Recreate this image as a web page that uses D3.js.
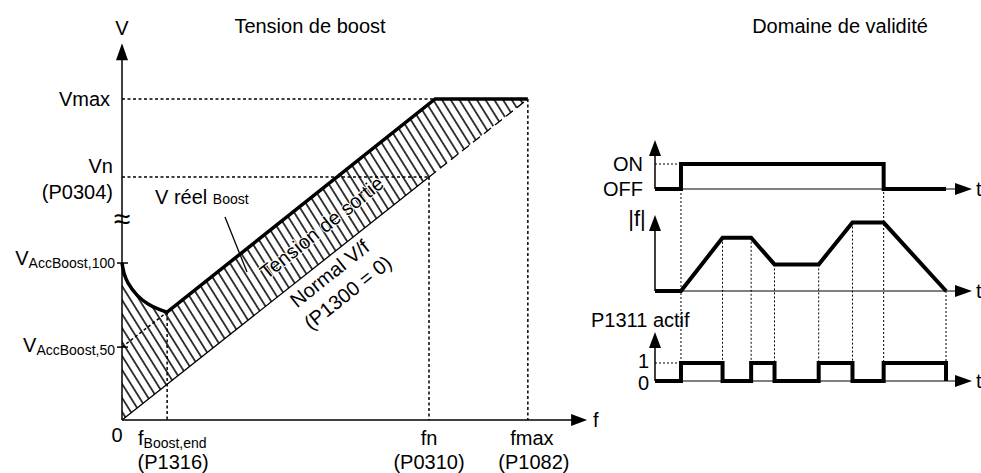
<!DOCTYPE html>
<html><head><meta charset="utf-8">
<script src="https://cdn.jsdelivr.net/npm/d3@7"></script>
<style>
html,body{margin:0;padding:0;background:#fff;}
svg{display:block;font-family:"Liberation Sans",Arial,sans-serif;}
</style></head>
<body>
<svg id="c" width="981" height="473"></svg>
<script>
// ---------- DATA (left: V/f characteristic, values in % of rated) ----------
const fBoostEnd = 14.7, fN = 100, fMax = 132.2, fAxisMax = 151.5;
const vAcc100 = 64.6, vAcc50 = 30, vN = 100, vMax = 132.1, vAxisMax = 155;
const boostCurveF = [0, 0.65, 1.95, 4.9, 8.5, 11.7, 14.7];
const boostCurveV = [64.6, 60.5, 56.4, 51.4, 47.7, 45.7, 44.4];
const outputF = [14.7, 102, 132.2];
const outputV = [44.4, 132.1, 132.1];
const normalF = [0, 100, 132.2];
const normalV = [0, 100, 132.1];
const vTickLabels = ["Vmax", "Vn", "(P0304)"];
const fTickLabels = ["fn", "(P0310)", "fmax", "(P1082)", "(P1316)"];
// ---------- DATA (right: validity domain, time axis) ----------
const tAxisMax = 12.2;
const onOffT = [0, 1, 1, 8.8, 8.8, 11.2];
const onOffV = [0, 0, 1, 1, 0, 0];
const fAbsT = [0, 1, 2.6, 3.7, 4.6, 6.3, 7.6, 8.8, 11.2];
const fAbsV = [0, 0, 0.7, 0.7, 0.35, 0.35, 0.9, 0.9, 0];
const p1311T = [0, 1, 1, 2.6, 2.6, 3.7, 3.7, 4.6, 4.6, 6.3, 6.3, 7.6, 7.6, 8.8, 8.8, 11.2, 11.2];
const p1311V = [0, 0, 1, 1, 0, 0, 1, 1, 0, 0, 1, 1, 0, 0, 1, 1, 0];

const svg = d3.select("#c");
const FS = 20;

// scales
const fx = d3.scaleLinear().domain([0, 100]).range([122, 429]);
const vy = d3.scaleLinear().domain([0, 100]).range([420, 177]);
const tx = d3.scaleLinear().domain([0, tAxisMax]).range([655, 972]);
const yOn = d3.scaleLinear().domain([0, 1]).range([189, 164]);
const yF = d3.scaleLinear().domain([0, 1]).range([291, 215]);
const yP = d3.scaleLinear().domain([0, 1]).range([381, 363]);

// hatch pattern
const defs = svg.append("defs");
const pat = defs.append("pattern").attr("id", "hatch").attr("patternUnits", "userSpaceOnUse")
  .attr("width", 7.4).attr("height", 20).attr("patternTransform", "rotate(-32)");
pat.append("line").attr("x1", 3.7).attr("x2", 3.7).attr("y1", -2).attr("y2", 22)
  .attr("stroke", "#000").attr("stroke-width", 1.5);

function arrowUp(x, yTip, len = 17, hw = 6) {
  svg.append("path").attr("d", `M${x},${yTip}L${x - hw},${yTip + len}L${x + hw},${yTip + len}Z`).attr("fill", "#000");
}
function arrowRight(xTip, y, len = 16, hw = 6) {
  svg.append("path").attr("d", `M${xTip},${y}L${xTip - len},${y - hw}L${xTip - len},${y + hw}Z`).attr("fill", "#000");
}
function txt(x, y, s, anchor = "start", size = FS) {
  return svg.append("text").attr("x", x).attr("y", y).attr("text-anchor", anchor).attr("font-size", size).text(s);
}

// ---------- LEFT CHART ----------
const boostPts = boostCurveF.map((f, i) => [f, boostCurveV[i]]);
const curveGen = d3.line().x(d => fx(d[0])).y(d => vy(d[1])).curve(d3.curveCatmullRom.alpha(0.5));
const lowerPts = [[normalF[2], normalV[2]], [normalF[0], normalV[0]]];
const curvePath = curveGen(boostPts);
const restPath = outputF.slice(1).map((f, i) => `L${fx(f)},${vy(outputV[i + 1])}`).join("");
const lowerPath = lowerPts.map(p => `L${fx(p[0])},${vy(p[1])}`).join("");
svg.append("path").attr("d", curvePath + restPath + lowerPath + "Z").attr("fill", "url(#hatch)");

// dashed guide lines
const dash = g => g.attr("stroke", "#000").attr("stroke-width", 1.5).attr("stroke-dasharray", "3,2.5").attr("fill", "none");
svg.append("line").attr("x1", fx(0)).attr("x2", fx(fMax)).attr("y1", vy(vMax)).attr("y2", vy(vMax)).call(dash);
svg.append("line").attr("x1", fx(0)).attr("x2", fx(fN)).attr("y1", vy(vN)).attr("y2", vy(vN)).call(dash);
svg.append("line").attr("x1", fx(fMax)).attr("x2", fx(fMax)).attr("y1", vy(vMax)).attr("y2", vy(0)).call(dash);
svg.append("line").attr("x1", fx(fN)).attr("x2", fx(fN)).attr("y1", vy(vN)).attr("y2", vy(0)).call(dash);
svg.append("line").attr("x1", fx(fBoostEnd)).attr("x2", fx(fBoostEnd)).attr("y1", vy(outputV[0])).attr("y2", vy(0)).call(dash);
svg.append("line").attr("x1", fx(0)).attr("x2", fx(fBoostEnd)).attr("y1", vy(vAcc50)).attr("y2", vy(outputV[0])).call(dash);

// normal V/f line
svg.append("line").attr("x1", fx(normalF[0])).attr("y1", vy(normalV[0])).attr("x2", fx(normalF[1])).attr("y2", vy(normalV[1]))
  .attr("stroke", "#000").attr("stroke-width", 1.3);
svg.append("line").attr("x1", fx(normalF[1])).attr("y1", vy(normalV[1])).attr("x2", fx(normalF[2])).attr("y2", vy(normalV[2]))
  .attr("stroke", "#000").attr("stroke-width", 1.3).attr("stroke-dasharray", "9,5");

// boost curve + output line (thick)
svg.append("path").attr("d", curvePath + restPath).attr("fill", "none").attr("stroke", "#000")
  .attr("stroke-width", 3.5).attr("stroke-linejoin", "miter");

// axes
svg.append("line").attr("x1", fx(0)).attr("x2", fx(0)).attr("y1", vy(0)).attr("y2", vy(vAxisMax) + 10).attr("stroke", "#000").attr("stroke-width", 1.5);
arrowUp(fx(0), vy(vAxisMax));
svg.append("line").attr("x1", fx(0)).attr("x2", fx(fAxisMax) - 10).attr("y1", vy(0)).attr("y2", vy(0)).attr("stroke", "#000").attr("stroke-width", 1.5);
arrowRight(fx(fAxisMax), vy(0));
[vAcc100, vAcc50].forEach(v => svg.append("line").attr("x1", fx(0) - 5).attr("x2", fx(0) + 6).attr("y1", vy(v)).attr("y2", vy(v)).attr("stroke", "#000").attr("stroke-width", 1.5));

// break symbol
txt(fx(0), 229, "≈", "middle", 30);

// labels
txt(fx(0), 35, "V", "middle");
txt(110, vy(vMax) + 7, vTickLabels[0], "end");
txt(113, vy(vN) - 4, vTickLabels[1], "end");
txt(113, vy(vN) + 22, vTickLabels[2], "end");
const l100 = txt(115, vy(vAcc100) + 2, null, "end");
l100.append("tspan").text("V");
l100.append("tspan").attr("font-size", 14).attr("dy", 3).text("AccBoost,100");
const l50 = txt(115, vy(vAcc50) + 5, null, "end");
l50.append("tspan").text("V");
l50.append("tspan").attr("font-size", 14).attr("dy", 3).text("AccBoost,50");
txt(fx(0) - 5, 442, "0", "middle");
const lb = txt(138, 445, null, "start");
lb.append("tspan").text("f");
lb.append("tspan").attr("font-size", 14).attr("dy", 3).text("Boost,end");
txt(fx(fBoostEnd) + 6, 469, fTickLabels[4], "middle");
txt(fx(fN), 445, fTickLabels[0], "middle");
txt(fx(fN), 469, fTickLabels[1], "middle");
txt(fx(fMax) + 4, 445, fTickLabels[2], "middle");
txt(fx(fMax) + 6, 469, fTickLabels[3], "middle");
txt(fx(fAxisMax) + 6, vy(0) + 7, "f", "start");

txt(310, 33, "Tension de boost", "middle");

// V réel Boost
const vr = txt(155, 204, null, "start");
vr.append("tspan").text("V réel ");
vr.append("tspan").attr("font-size", 14).text("Boost");
svg.append("line").attr("x1", 225).attr("y1", 217).attr("x2", 247).attr("y2", 272).attr("stroke", "#000").attr("stroke-width", 1.3);

// rotated texts (white halo so they stay readable over the hatch)
const rot = (x, y, s) => svg.append("text").attr("transform", `translate(${x},${y}) rotate(-38.5)`).attr("text-anchor", "middle")
  .attr("font-size", FS).attr("stroke", "#fff").attr("stroke-width", 2).attr("paint-order", "stroke").text(s);
rot(326, 233, "Tension de sortie");
rot(334, 279, "Normal V/f");
rot(352, 298, "(P1300 = 0)");

// ---------- RIGHT CHART ----------
txt(840, 33, "Domaine de validité", "middle");

const lineT = (T, V, ys) => d3.line().x((d, i) => tx(T[i])).y((d, i) => ys(V[i]))(T);

// vertical dotted guides
const guideT = [1, 2.6, 3.7, 4.6, 6.3, 7.6, 8.8, 11.2];
const guideTop = [yOn(0), yF(0.7), yF(0.7), yF(0.35), yF(0.35), yF(0.9), yOn(1), yF(0)];
guideT.forEach((t, i) => svg.append("line").attr("x1", tx(t)).attr("x2", tx(t)).attr("y1", guideTop[i]).attr("y2", yP(1))
  .attr("stroke", "#000").attr("stroke-width", 1).attr("stroke-dasharray", "2,2"));
svg.append("line").attr("x1", tx(0)).attr("x2", tx(1)).attr("y1", yOn(1)).attr("y2", yOn(1)).attr("stroke", "#000").attr("stroke-width", 1).attr("stroke-dasharray", "2,2");
svg.append("line").attr("x1", tx(0)).attr("x2", tx(1)).attr("y1", yP(1)).attr("y2", yP(1)).attr("stroke", "#000").attr("stroke-width", 1).attr("stroke-dasharray", "2,2");

// axes
[[yOn, 140], [yF, 215], [yP, 332]].forEach(([ys, top]) => {
  svg.append("line").attr("x1", tx(0)).attr("x2", tx(0)).attr("y1", ys(0)).attr("y2", top + 10).attr("stroke", "#000").attr("stroke-width", 1.5);
  arrowUp(tx(0), top, 16, 6);
  svg.append("line").attr("x1", tx(0)).attr("x2", tx(tAxisMax) - 10).attr("y1", ys(0)).attr("y2", ys(0)).attr("stroke", "#000").attr("stroke-width", 1);
  arrowRight(tx(tAxisMax), ys(0), 17, 6);
  txt(tx(tAxisMax) + 4, ys(0) + 7, "t", "start");
});

// signals
const sig = (T, V, ys) => svg.append("path").attr("d", lineT(T, V, ys)).attr("fill", "none").attr("stroke", "#000")
  .attr("stroke-width", 4).attr("stroke-linejoin", "miter");
sig(onOffT, onOffV, yOn);
sig(fAbsT, fAbsV, yF);
sig(p1311T, p1311V, yP);

txt(643, 171, "ON", "end");
txt(643, 196, "OFF", "end");
txt(637, 226, "|f|", "middle", 22);
txt(591, 327, "P1311 actif", "start");
txt(649, 368, "1", "end");
txt(649, 390, "0", "end");
</script>
</body></html>
